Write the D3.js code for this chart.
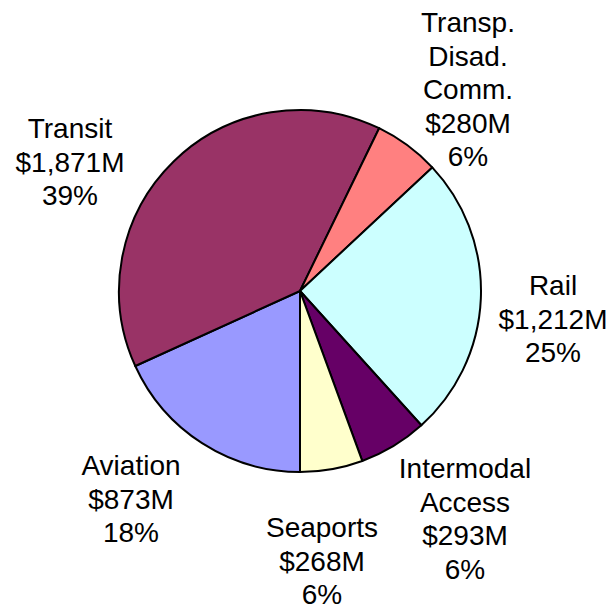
<!DOCTYPE html>
<html>
<head>
<meta charset="utf-8">
<script src="https://cdn.jsdelivr.net/npm/d3@7"></script>
<style>
  body { margin: 0; background: #fff; }
  svg { display: block; }
  text { font-family: "Liberation Sans", Arial, sans-serif; font-size: 28px; fill: #000; }
</style>
</head>
<body>
<svg id="chart"></svg>
<script>
// slices in drawing order, starting at the bottom and going clockwise
const categories = ["Aviation", "Transit", "Transp. Disad. Comm.", "Rail", "Intermodal Access", "Seaports"];
const amounts = [873, 1871, 280, 1212, 293, 268];
const amountLabels = ["$873M", "$1,871M", "$280M", "$1,212M", "$293M", "$268M"];
const percentLabels = ["18%", "39%", "6%", "25%", "6%", "6%"];
const colors = ["#9999FF", "#993366", "#FF8080", "#CCFFFF", "#660066", "#FFFFCC"];

const w = 613, h = 610;
const cx = 300, cy = 291, r = 181;

const svg = d3.select("#chart").attr("width", w).attr("height", h);

const pie = d3.pie()
  .sort(null)
  .value(d => d)
  .startAngle(Math.PI)
  .endAngle(3 * Math.PI);

const arc = d3.arc().innerRadius(0).outerRadius(r);
const arcs = pie(amounts);

const g = svg.append("g").attr("transform", `translate(${cx},${cy})`);

g.selectAll("path")
  .data(arcs)
  .join("path")
  .attr("d", arc)
  .attr("fill", (d, i) => colors[i])
  .attr("stroke", "#000")
  .attr("stroke-width", 2)
  .attr("stroke-linejoin", "round");

// label anchor (centre x, first baseline) per slice
const labelPos = [
  [131, 475], [70, 138], [468, 32], [553, 295], [465, 478], [322, 537]
];
const lineH = 33.5;

categories.forEach((c, i) => {
  const lines = c.split(" ");
  // keep "Intermodal Access" split per word too
  const all = lines.concat([amountLabels[i], percentLabels[i]]);
  const t = svg.append("text")
    .attr("text-anchor", "middle")
    .attr("x", labelPos[i][0])
    .attr("y", labelPos[i][1]);
  all.forEach((s, k) => {
    t.append("tspan")
      .attr("x", labelPos[i][0])
      .attr("y", labelPos[i][1] + k * lineH)
      .text(s);
  });
});
</script>
</body>
</html>
